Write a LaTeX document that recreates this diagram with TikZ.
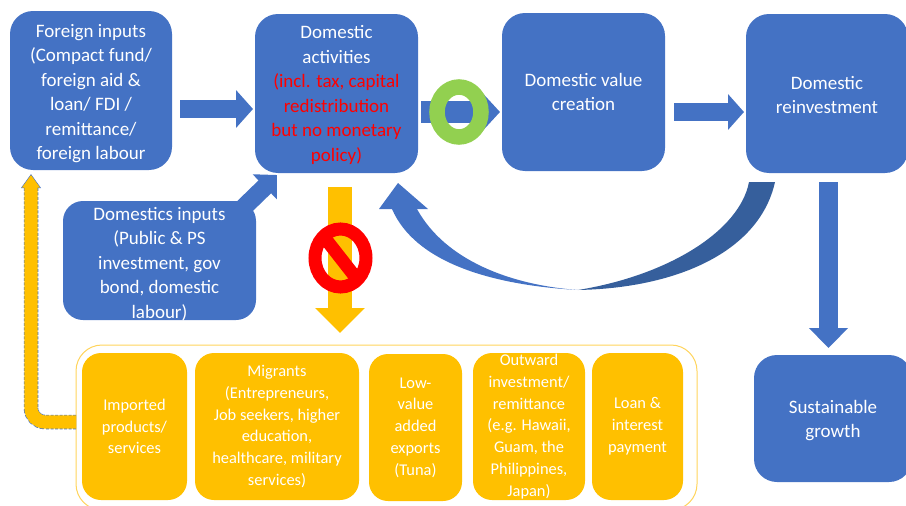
\documentclass[tikz,border=0pt]{standalone}
\usepackage{xcolor}
\usepackage{fontspec}
\setmainfont{Carlito}
\usepackage{tikz}
\usetikzlibrary{arrows.meta}
\usetikzlibrary{shapes.geometric}
\definecolor{boxblue}{HTML}{4472C4}
\definecolor{darkblue}{HTML}{365F9C}
\definecolor{boxorange}{HTML}{FFC000}
\definecolor{linegold}{HTML}{FFD45C}
\definecolor{ringgreen}{HTML}{92D050}
\tikzstyle{bluebox} = [rectangle, rounded corners=23pt, fill=boxblue, text=white, align=center, inner xsep=0, inner ysep=-6pt, outer sep=0, font=\fontsize{19}{24.5}\selectfont]
\tikzstyle{orangebox} = [rectangle, rounded corners=19pt, fill=boxorange, text=white, align=center, inner xsep=0, inner ysep=-2pt, outer sep=0, font=\fontsize{16.4}{21.8}\selectfont]
\tikzstyle{blockarrow} = [draw=boxblue]
\tikzstyle{stopsign} = [ellipse, draw=red, line width=13pt, inner sep=0, outer sep=0]
\newcommand{\lowered}[1]{\rule{0pt}{#1}}

\begin{document}
\begin{tikzpicture}[x=1pt, y=-1pt]
\useasboundingbox (0,0) rectangle (906,506);
% top row
\node [bluebox, minimum width=162pt, minimum height=159pt] (foreign) at (91, 90.5) {\lowered{19pt}Foreign inputs\\(Compact fund/\\foreign aid \&\\loan/ FDI /\\remittance/\\foreign labour};
\node [bluebox, minimum width=163pt, minimum height=159pt] (activities) at (336.5, 93.5) {\lowered{16pt}Domestic\\activities\\\textcolor{red}{(incl. tax, capital}\\\textcolor{red}{redistribution}\\\textcolor{red}{but no monetary}\\\textcolor{red}{policy)}};
\node [bluebox, minimum width=163pt, minimum height=158pt] (valuecreation) at (583.5, 92) {Domestic value\\creation};
\node [bluebox, minimum width=162pt, minimum height=159pt] (reinvest) at (827, 93.5) {\lowered{16pt}Domestic\\reinvestment};
\node [bluebox, minimum width=158pt, minimum height=127pt] (growth) at (833, 418.5) {\lowered{17pt}Sustainable\\growth};
\node [bluebox, rounded corners=20pt, minimum width=193pt, minimum height=119pt] (dominputs) at (159.5, 260.5) {\lowered{20pt}Domestics inputs\\(Public \& PS\\investment, gov\\bond, domestic\\labour)};
% leakage group
\node [rectangle, rounded corners=26pt, draw=linegold, line width=1pt, minimum width=621pt, minimum height=165pt, outer sep=0] (leakage) at (386.5, 427.5) {};
\node [orangebox, minimum width=105pt, minimum height=147pt] (imported) at (134.5, 426.5) {Imported\\products/\\services};
\node [orangebox, minimum width=164pt, minimum height=147pt] (migrants) at (277, 426.5) {Migrants\\(Entrepreneurs,\\Job seekers, higher\\education,\\healthcare, military\\services)};
\node [orangebox, minimum width=93pt, minimum height=147pt] (exports) at (415.5, 427.5) {Low-\\value\\added\\exports\\(Tuna)};
\node [orangebox, minimum width=112pt, minimum height=147pt] (outward) at (529, 426.5) {Outward\\investment/\\remittance\\(e.g. Hawaii,\\Guam, the\\Philippines,\\Japan)};
\node [orangebox, minimum width=91pt, minimum height=147pt] (loan) at (637.5, 426.5) {Loan \&\\interest\\payment};
% arrows
\draw [blockarrow, line width=18pt, -{Triangle[length=17pt, width=37pt]}, shorten <=8pt, shorten >=2pt] ([yshift=-18.5pt]foreign.east) to ([yshift=-15.5pt]activities.west);
\draw [blockarrow, line width=22pt, -{Triangle[length=18pt, width=38pt]}, shorten <=3pt, shorten >=2pt] ([yshift=-18.5pt]activities.east) to ([yshift=-20pt]valuecreation.west);
\draw [blockarrow, line width=18pt, -{Triangle[length=16pt, width=35pt]}, shorten <=9pt, shorten >=2pt] ([yshift=-20pt]valuecreation.east) to ([yshift=-18.5pt]reinvest.west);
\draw [blockarrow, line width=19pt, -{Triangle[length=20pt, width=38pt]}, shorten <=9pt, shorten >=7pt] ([xshift=1.5pt]reinvest.south) to ([xshift=-4.5pt]growth.north);
\draw [blockarrow, line width=18pt, -{Triangle[length=17pt, width=34pt]}] ([xshift=-13pt, yshift=-7pt]dominputs.north east) to ([xshift=22pt, yshift=-2pt]activities.south west);
% return arrow
\fill [darkblue] (775, 182) .. controls (760, 250) and (680, 288) .. (578, 290) .. controls (670, 275) and (740, 230) .. (749, 182) -- cycle;
\fill [boxblue] (392, 209) .. controls (415, 262) and (490, 285) .. (578, 290) .. controls (510, 285) and (445, 260) .. (417, 209) -- cycle;
\fill [boxblue] (398, 183) -- (428, 209) -- (379, 209) -- cycle;
% blocked flow
\coordinate (blocktip) at (340, 333);
\draw [draw=boxorange, line width=24pt, -{Triangle[length=25pt, width=48pt]}, shorten <=14pt] ([xshift=3.5pt]activities.south) to (blocktip);
\node [stopsign, minimum width=51pt, minimum height=58pt] (nosign) at (340.5, 258) {};
\draw [draw=red, line width=13pt] (nosign.128) to (nosign.-52);
\node [ellipse, draw=ringgreen, line width=15.5pt, minimum width=44pt, minimum height=50pt, inner sep=0] (ring) at (459, 112) {};
% way back to foreign inputs
\coordinate (backtip) at (31, 174);
\draw [draw=boxblue, dash pattern=on 3pt off 1.5pt, line width=14.5pt, rounded corners=14pt, -{Triangle[length=14pt, width=19pt]}, shorten <=6pt] ([yshift=4.5pt]imported.west) -| (backtip);
\draw [draw=boxorange, line width=13.2pt, rounded corners=14pt, -{Triangle[length=12.5pt, width=17pt]}, shorten <=6pt, shorten >=1pt] ([yshift=4.5pt]imported.west) -| (backtip);
\end{tikzpicture}
\end{document}
